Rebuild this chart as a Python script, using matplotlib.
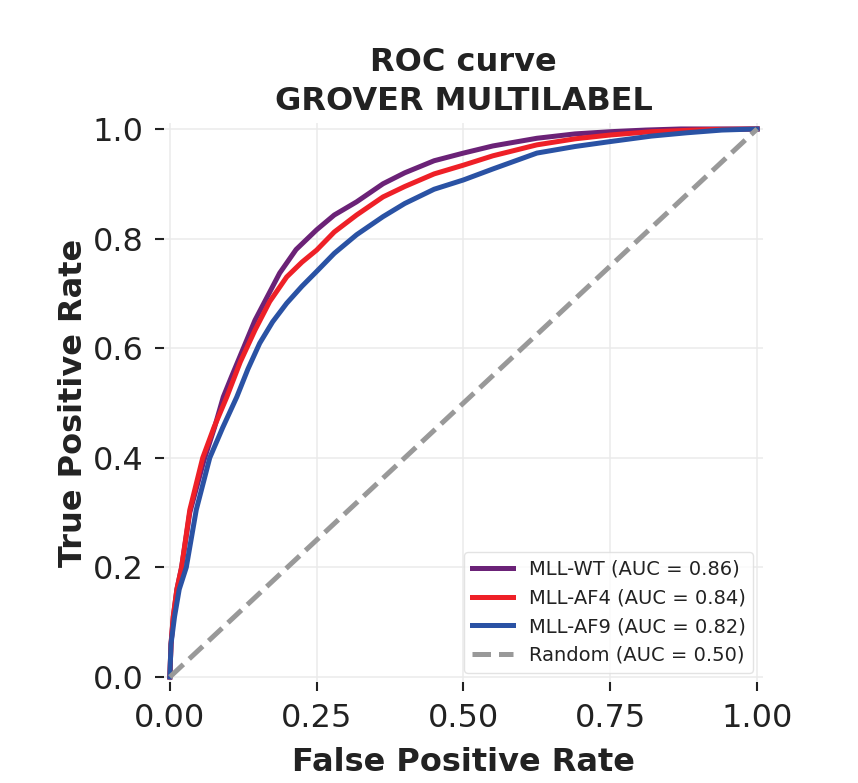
import numpy as np
import matplotlib.pyplot as plt

# ROC points (fpr, tpr)
wt_fpr = [0, 0.002, 0.006, 0.012, 0.02, 0.034, 0.058, 0.076, 0.091, 0.105, 0.119, 0.145,
          0.187, 0.215, 0.25, 0.28, 0.318, 0.363, 0.40, 0.45, 0.5, 0.55, 0.625, 0.69,
          0.75, 0.81, 0.87, 1.0]
wt_tpr = [0, 0.06, 0.11, 0.16, 0.20, 0.30, 0.395, 0.455, 0.511, 0.548, 0.584, 0.651,
          0.737, 0.78, 0.816, 0.843, 0.867, 0.90, 0.92, 0.942, 0.956, 0.969, 0.983, 0.991,
          0.995, 0.998, 1.0, 1.0]

af4_fpr = [0, 0.002, 0.0057, 0.012, 0.02, 0.034, 0.056, 0.075, 0.097, 0.12, 0.145, 0.17,
           0.199, 0.225, 0.25, 0.28, 0.318, 0.363, 0.40, 0.45, 0.5, 0.55, 0.625, 0.69,
           0.75, 0.82, 0.92, 1.0]
af4_tpr = [0, 0.06, 0.11, 0.16, 0.2, 0.305, 0.40, 0.455, 0.511, 0.575, 0.633, 0.685,
           0.73, 0.757, 0.779, 0.812, 0.843, 0.876, 0.895, 0.918, 0.934, 0.951, 0.971, 0.982,
           0.989, 0.995, 0.999, 1.0]

af9_fpr = [0, 0.002, 0.008, 0.016, 0.028, 0.045, 0.068, 0.09, 0.114, 0.133, 0.153, 0.175,
           0.199, 0.225, 0.25, 0.28, 0.318, 0.363, 0.40, 0.45, 0.5, 0.55, 0.625, 0.69,
           0.75, 0.82, 0.88, 0.94, 1.0]
af9_tpr = [0, 0.06, 0.11, 0.16, 0.2, 0.305, 0.40, 0.455, 0.511, 0.562, 0.609, 0.648,
           0.682, 0.713, 0.74, 0.773, 0.807, 0.84, 0.864, 0.89, 0.907, 0.927, 0.956, 0.968,
           0.977, 0.987, 0.993, 0.998, 1.0]

labels = ['MLL-WT', 'MLL-AF4', 'MLL-AF9']
aucs = [0.86, 0.84, 0.82]
colors = ['#6B2277', '#EE2027', '#2A52A4']

fig = plt.figure(figsize=(8.58, 7.83), dpi=100)
ax = fig.add_axes([0.1911, 0.1284, 0.6982, 0.7139])

curves = [(wt_fpr, wt_tpr), (af4_fpr, af4_tpr), (af9_fpr, af9_tpr)]
for (f, t), lab, auc, c in zip(curves, labels, aucs, colors):
    ax.plot(f, t, color=c, lw=3.6, label=f'{lab} (AUC = {auc:.2f})')

# chance line
ax.plot([0, 1], [0, 1], color='#999999', lw=3.6, ls='--', label='Random (AUC = 0.50)')

ax.set_xlim(-0.01, 1.01)
ax.set_ylim(-0.01, 1.01)
ax.set_xticks([0, 0.25, 0.5, 0.75, 1.0])
ax.set_yticks([0, 0.2, 0.4, 0.6, 0.8, 1.0])
ax.set_xticklabels(['0.00', '0.25', '0.50', '0.75', '1.00'])
ax.set_yticklabels(['0.0', '0.2', '0.4', '0.6', '0.8', '1.0'])

for s in ax.spines.values():
    s.set_visible(False)
ax.grid(True, color='#EBEBEB', lw=1.1)
ax.set_axisbelow(True)
ax.tick_params(axis='both', labelsize=23, length=6.5, width=1.5, color='#222222',
               labelcolor='#222222', pad=8)

ax.set_xlabel('False Positive Rate', fontsize=23, fontweight='bold', color='#222222',
              labelpad=10)
ax.set_ylabel('True Positive Rate', fontsize=23, fontweight='bold', color='#222222',
              labelpad=3)
ax.set_title('ROC curve\nGROVER MULTILABEL', fontsize=23, fontweight='bold',
             color='#222222', pad=10, linespacing=1.32)

leg = ax.legend(loc='lower right', fontsize=14, frameon=True, borderaxespad=0.5,
                labelspacing=0.5, handlelength=2.1)
leg.get_frame().set_edgecolor('#DDDDDD')
for t in leg.get_texts():
    t.set_color('#222222')

plt.savefig('out.png', dpi=100)
